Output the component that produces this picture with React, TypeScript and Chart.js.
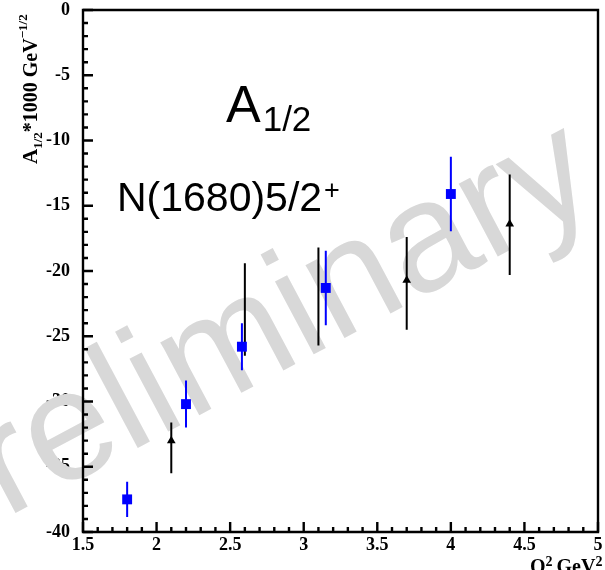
import React, { useEffect, useRef } from "react";
import { Chart, registerables } from "chart.js";
Chart.register(...registerables);

// ---- data ----
const xTickValues = [1.5, 2, 2.5, 3, 3.5, 4, 4.5, 5];
const yTickValues = [0, -5, -10, -15, -20, -25, -30, -35, -40];

const blueQ2 = [1.8, 2.2, 2.58, 3.15, 4.0];
const blueA = [-37.5, -30.2, -25.8, -21.3, -14.1];
const blueErr = [1.35, 1.8, 1.8, 2.85, 2.85];

const blackQ2 = [2.1, 2.6, 3.1, 3.7, 4.4];
const blackA = [-33.0, -22.9, -22.0, -20.7, -16.4];
const blackHigh = [-31.6, -19.4, -18.2, -17.4, -12.6];
const blackLow = [-35.5, -26.5, -25.7, -24.5, -20.3];
const blackMarkerShown = [true, false, false, true, true];

const SERIF = "'Liberation Serif', 'Times New Roman', serif";
const SANS = "'Liberation Sans', Arial, sans-serif";

const drawPlugin = {
  id: "custom",
  beforeDatasetsDraw(chart: any) {
    const ctx = chart.ctx as CanvasRenderingContext2D;
    const { left, right, top, bottom } = chart.chartArea;
    const xs = chart.scales.x;
    const ys = chart.scales.y;

    // watermark
    ctx.save();
    ctx.fillStyle = "rgb(216,216,216)";
    ctx.font = `156px ${SANS}`;
    ctx.textBaseline = "alphabetic";
    ctx.translate(6, 518);
    ctx.rotate((-28 * Math.PI) / 180);
    const pw = ctx.measureText("P").width;
    ctx.fillText("Preliminary", -pw, 0);
    ctx.restore();

    // frame
    ctx.save();
    ctx.strokeStyle = "#000";
    ctx.lineWidth = 2.4;
    ctx.beginPath();
    ctx.moveTo(left, top);
    ctx.lineTo(right, top);
    ctx.lineTo(right, bottom);
    ctx.lineTo(left, bottom);
    ctx.closePath();
    ctx.stroke();

    // ticks (inward)
    ctx.beginPath();
    for (let v = 15; v <= 50; v += 1) {
      const px = xs.getPixelForValue(v / 10);
      const major = v % 5 === 0;
      ctx.moveTo(px, bottom);
      ctx.lineTo(px, bottom - (major ? 10 : 5));
    }
    for (let v = 0; v >= -40; v -= 1) {
      const py = ys.getPixelForValue(v);
      const major = v % 5 === 0;
      ctx.moveTo(left, py);
      ctx.lineTo(left + (major ? 10 : 5), py);
    }
    ctx.stroke();
    ctx.restore();

    // error bars
    ctx.save();
    ctx.lineWidth = 2;
    ctx.strokeStyle = "#0000ff";
    ctx.beginPath();
    blueQ2.forEach((q, i) => {
      const px = xs.getPixelForValue(q);
      ctx.moveTo(px, ys.getPixelForValue(blueA[i] + blueErr[i]));
      ctx.lineTo(px, ys.getPixelForValue(blueA[i] - blueErr[i]));
    });
    ctx.stroke();
    ctx.strokeStyle = "#000";
    ctx.beginPath();
    blackQ2.forEach((q, i) => {
      const px = xs.getPixelForValue(q);
      ctx.moveTo(px, ys.getPixelForValue(blackHigh[i]));
      ctx.lineTo(px, ys.getPixelForValue(blackLow[i]));
    });
    ctx.stroke();
    ctx.restore();
  },
  afterDraw(chart: any) {
    const ctx = chart.ctx as CanvasRenderingContext2D;
    ctx.save();
    ctx.fillStyle = "#000";
    ctx.textBaseline = "alphabetic";
    ctx.textAlign = "left";

    // annotation A_{1/2}
    ctx.font = `52px ${SANS}`;
    ctx.fillText("A", 226, 122);
    const aw = ctx.measureText("A").width;
    ctx.font = `35px ${SANS}`;
    ctx.fillText("1/2", 226 + aw + 2, 131);

    // N(1680)5/2+
    ctx.font = `41px ${SANS}`;
    ctx.fillText("N(1680)5/2", 117, 211);
    const nw = ctx.measureText("N(1680)5/2").width;
    ctx.font = `27px ${SANS}`;
    ctx.fillText("+", 117 + nw + 2, 199);

    // y axis title (rotated)
    ctx.save();
    ctx.translate(37, 164);
    ctx.rotate(-Math.PI / 2);
    let x = 0;
    ctx.font = `bold 21px ${SERIF}`;
    ctx.fillText("A", x, 0);
    x += ctx.measureText("A").width;
    ctx.font = `bold 13px ${SERIF}`;
    ctx.fillText("1/2", x, 5);
    x += ctx.measureText("1/2").width;
    ctx.font = `bold 20px ${SERIF}`;
    ctx.fillText("*1000 GeV", x, 0);
    x += ctx.measureText("*1000 GeV").width;
    ctx.font = `bold 13px ${SERIF}`;
    ctx.fillText("\u22121/2", x, -10);
    ctx.restore();

    // x axis title
    let qx = 530;
    ctx.font = `bold 20px ${SERIF}`;
    ctx.fillText("Q", qx, 573);
    qx += ctx.measureText("Q").width;
    ctx.font = `bold 14px ${SERIF}`;
    ctx.fillText("2", qx, 566);
    qx += ctx.measureText("2").width + 4;
    ctx.font = `bold 20px ${SERIF}`;
    ctx.fillText("GeV", qx, 573);
    qx += ctx.measureText("GeV").width;
    ctx.font = `bold 14px ${SERIF}`;
    ctx.fillText("2", qx, 566);

    ctx.restore();
  },
};

export default function App() {
  const ref = useRef<HTMLCanvasElement>(null);
  useEffect(() => {
    const chart = new Chart(ref.current!, {
      type: "scatter",
      data: {
        datasets: [
          {
            label: "blue",
            data: blueQ2.map((q, i) => ({ x: q, y: blueA[i] })),
            pointStyle: "rect",
            pointRadius: 7,
            backgroundColor: "#0000ff",
            borderColor: "#0000ff",
            borderWidth: 0,
            showLine: false,
          },
          {
            label: "black",
            data: blackQ2.map((q, i) => ({ x: q, y: blackA[i] })),
            pointStyle: "triangle",
            pointRadius: (c: any) => (blackMarkerShown[c.dataIndex] ? 5 : 0),
            backgroundColor: "#000",
            borderColor: "#000",
            borderWidth: 0,
            showLine: false,
          },
        ],
      },
      options: {
        responsive: false,
        animation: false,
        events: [],
        layout: { padding: { top: 10, right: 2, left: 0, bottom: 0 } },
        plugins: { legend: { display: false }, tooltip: { enabled: false } },
        scales: {
          x: {
            type: "linear",
            min: 1.5,
            max: 5,
            grid: { display: false, drawTicks: false },
            border: { display: false },
            ticks: {
              padding: 3,
              color: "#000",
              maxRotation: 0,
              autoSkip: false,
              font: { family: SERIF, weight: "bold", size: 18 },
              callback: (v: any) => String(v),
            },
            afterBuildTicks: (s: any) => {
              s.ticks = xTickValues.map((v) => ({ value: v }));
            },
            afterFit: (s: any) => {
              s.height = 38;
              s.paddingLeft = 0;
              s.paddingRight = 0;
            },
          },
          y: {
            type: "linear",
            min: -40,
            max: 0,
            grid: { display: false, drawTicks: false },
            border: { display: false },
            ticks: {
              padding: 13,
              color: "#000",
              autoSkip: false,
              font: { family: SERIF, weight: "bold", size: 18 },
              callback: (v: any) => String(v),
            },
            afterBuildTicks: (s: any) => {
              s.ticks = yTickValues.map((v) => ({ value: v }));
            },
            afterFit: (s: any) => {
              s.width = 83;
              s.paddingTop = 0;
              s.paddingBottom = 0;
            },
          },
        },
      },
      plugins: [drawPlugin],
    } as any);
    return () => chart.destroy();
  }, []);
  return (
    <div style={{ position: "fixed", left: 0, top: 0, width: 605, height: 570, background: "#fff" }}>
      <canvas ref={ref} width={605} height={570} style={{ display: "block", width: 605, height: 570 }} />
    </div>
  );
}
